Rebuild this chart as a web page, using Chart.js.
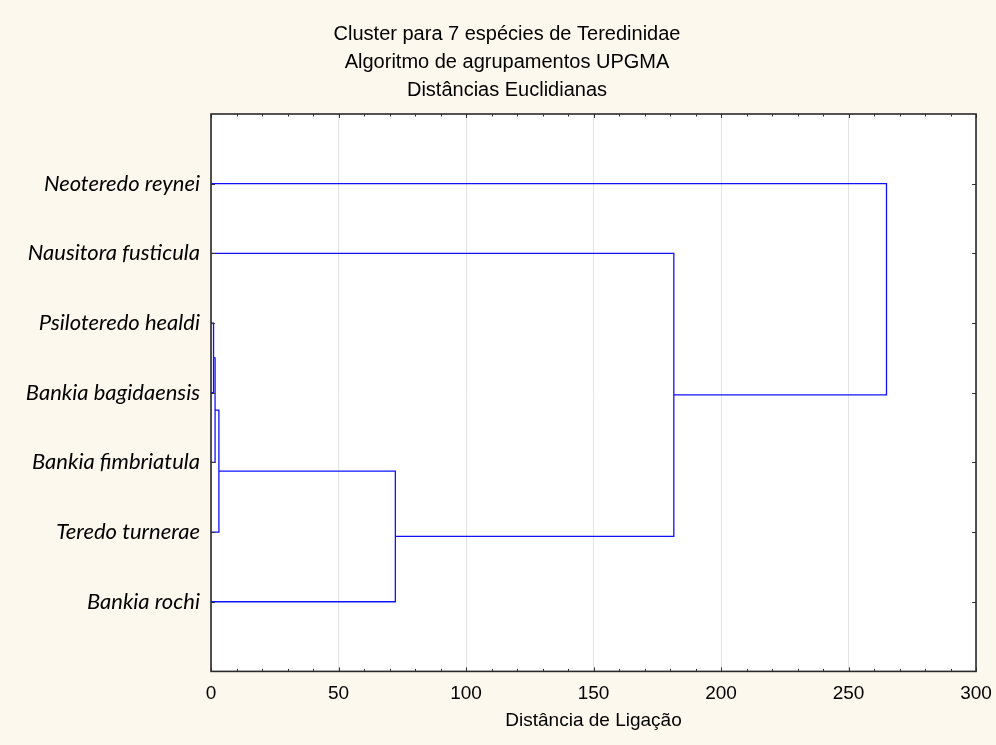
<!DOCTYPE html>
<html>
<head>
<meta charset="utf-8">
<title>Cluster para 7 espécies de Teredinidae</title>
<script src="https://cdn.jsdelivr.net/npm/chart.js@4.4.1/dist/chart.umd.min.js"></script>
<style>
  html, body { margin: 0; padding: 0; background: #fdf8ee; }
  #wrap { width: 996px; height: 745px; position: relative; }
</style>
</head>
<body>
<div id="wrap"><canvas id="dendro"></canvas></div>
<script>
// --- Data ---
const species = [
    'Neoteredo reynei',
    'Nausitora fusticula',
    'Psiloteredo healdi',
    'Bankia bagidaensis',
    'Bankia fimbriatula',
    'Teredo turnerae',
    'Bankia rochi'
];
// merges: leaves are 0..6, each merge creates cluster 7, 8, ...
const mergeA = [2, 7, 8, 9, 1, 0];
const mergeB = [3, 4, 5, 6, 10, 11];
const mergeDist = [1.0, 1.6, 3.1, 72.3, 181.5, 264.9];
const xTicks = [0, 50, 100, 150, 200, 250, 300];
const minorStep = 10;

const titleLines = ['Cluster para 7 espécies de Teredinidae', 'Algoritmo de agrupamentos UPGMA', 'Distâncias Euclidianas'];
const xTitle = 'Distância de Ligação';

// build the U-shaped links from the merge table
const clusterY = species.map((s, i) => i + 1);
const clusterH = species.map(() => 0);
const datasets = [];
mergeA.forEach((a, k) => {
    const b = mergeB[k];
    const d = mergeDist[k];
    datasets.push({
        data: [
            {x: clusterH[a], y: clusterY[a]},
            {x: d, y: clusterY[a]},
            {x: d, y: clusterY[b]},
            {x: clusterH[b], y: clusterY[b]}
        ],
        showLine: true,
        borderColor: '#1010ff',
        borderWidth: 1.3,
        pointRadius: 0,
        tension: 0
    });
    clusterY.push((clusterY[a] + clusterY[b]) / 2);
    clusterH.push(d);
});

// background, frame and inward ticks
const framePlugin = {
    id: 'frame',
    beforeDraw(chart) {
        const {ctx, chartArea: a} = chart;
        ctx.save();
        ctx.fillStyle = '#fdf8ee';
        ctx.fillRect(0, 0, chart.width, chart.height);
        ctx.fillStyle = '#ffffff';
        ctx.fillRect(a.left, a.top, a.right - a.left, a.bottom - a.top);
        ctx.restore();
    },
    afterDatasetsDraw(chart) {
        const {ctx, chartArea: a, scales} = chart;
        ctx.save();
        ctx.strokeStyle = '#333333';
        ctx.lineWidth = 1;
        ctx.beginPath();
        // minor/major ticks on top and bottom
        for (let v = 0; v <= 300; v += minorStep) {
            const x = Math.round(scales.x.getPixelForValue(v)) + 0.5;
            const len = v % 50 === 0 ? 4 : 2.5;
            ctx.moveTo(x, a.bottom); ctx.lineTo(x, a.bottom - len);
            ctx.moveTo(x, a.top); ctx.lineTo(x, a.top + len);
        }
        // category ticks on left and right
        species.forEach((s, i) => {
            const y = Math.round(scales.y.getPixelForValue(i + 1)) + 0.5;
            ctx.moveTo(a.left, y); ctx.lineTo(a.left + 4, y);
            ctx.moveTo(a.right, y); ctx.lineTo(a.right - 4, y);
        });
        ctx.stroke();
        ctx.lineWidth = 1.6;
        ctx.strokeStyle = '#2a2a2a';
        ctx.strokeRect(a.left, a.top, a.right - a.left, a.bottom - a.top);
        ctx.restore();
    }
};

new Chart(document.getElementById('dendro'), {
    type: 'scatter',
    data: {datasets: datasets},
    options: {
        responsive: true,
        maintainAspectRatio: false,
        animation: false,
        layout: {padding: {left: 18, right: 0, top: 0, bottom: 13}},
        plugins: {
            legend: {display: false},
            tooltip: {enabled: false},
            title: {
                display: true,
                text: titleLines,
                color: '#000000',
                font: {family: '"Liberation Sans", Arial, sans-serif', size: 20, weight: 'normal', lineHeight: 1.4},
                padding: {top: 20, bottom: 10}
            }
        },
        scales: {
            x: {
                type: 'linear',
                min: 0,
                max: 300,
                afterBuildTicks: s => { s.ticks = xTicks.map(v => ({value: v})); },
                afterFit: s => { s.paddingRight = 0; },
                grid: {color: '#e2e2e2', drawTicks: false},
                border: {display: false},
                ticks: {
                    color: '#000000',
                    padding: 11,
                    font: {family: '"Liberation Sans", Arial, sans-serif', size: 19}
                },
                title: {
                    display: true,
                    text: xTitle,
                    color: '#000000',
                    font: {family: '"Liberation Sans", Arial, sans-serif', size: 19},
                    padding: {top: -7, bottom: 0}
                }
            },
            y: {
                type: 'linear',
                reverse: true,
                min: 0,
                max: species.length + 1,
                afterBuildTicks: s => { s.ticks = species.map((n, i) => ({value: i + 1})); },
                afterFit: s => { s.width = 193; },
                grid: {display: false, drawTicks: false},
                border: {display: false},
                ticks: {
                    color: '#000000',
                    padding: 11,
                    font: {family: 'Lato, "Open Sans", sans-serif', size: 22, style: 'italic'},
                    callback: v => species[v - 1] || ''
                }
            },
            yRight: {
                position: 'right',
                display: true,
                afterFit: s => { s.width = 20; },
                grid: {display: false, drawTicks: false},
                border: {display: false},
                ticks: {display: false}
            }
        }
    },
    plugins: [framePlugin]
});
</script>
</body>
</html>
